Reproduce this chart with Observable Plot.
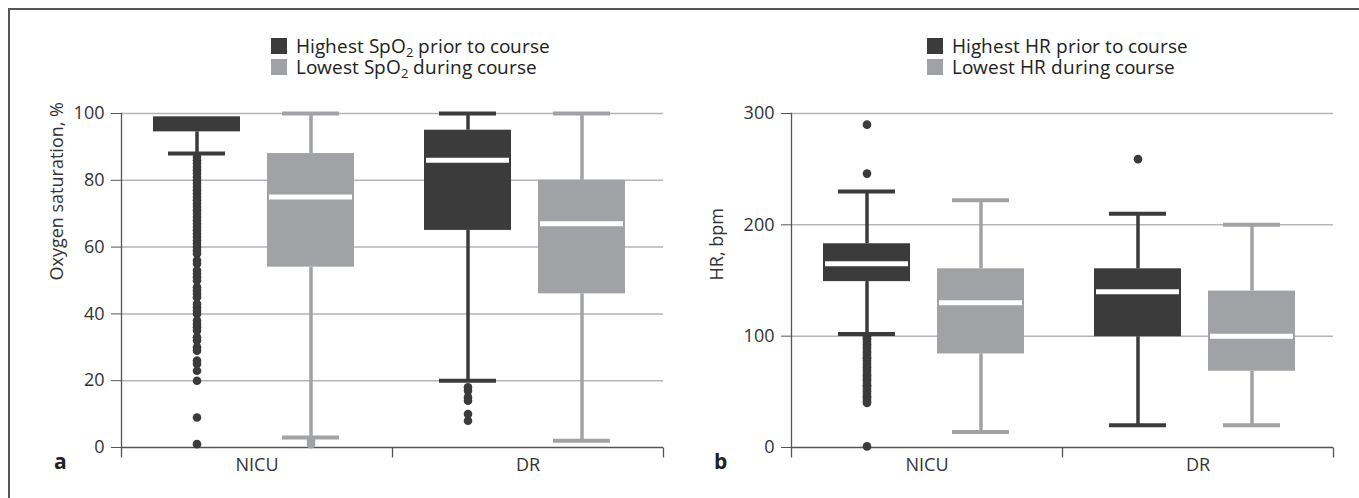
<!DOCTYPE html>
<html>
<head>
<meta charset="utf-8">
<script src="https://cdn.jsdelivr.net/npm/d3@7"></script>
<script src="https://cdn.jsdelivr.net/npm/@observablehq/plot@0.6"></script>
<style>
  @font-face { font-family: "OpenSansTight"; src: local("Open Sans"), local("OpenSans-Regular"), local("Open Sans Regular"); ascent-override: 80%; descent-override: 20%; line-gap-override: 0%; }
  body { margin: 0; background: #fff; }
  #root { position: relative; width: 1359px; height: 498px; overflow: hidden; font-family: "Open Sans", sans-serif; color: #222; }
  .frame { position: absolute; left: 8px; top: 8px; right: -10px; bottom: -10px; border-top: 2px solid #555; border-left: 2px solid #555; }
  .sq { position: absolute; width: 16px; height: 16px; }
  .lt { position: absolute; font-family: "OpenSansTight", "Open Sans", sans-serif; font-size: 19px; line-height: 21px; white-space: nowrap; color: #222; }
  .lt sub { font-size: 13px; vertical-align: -4px; line-height: 0; }
  .pl { position: absolute; font-size: 21px; line-height: 21px; font-weight: bold; color: #222; }
  .panel { position: absolute; top: 90px; }
</style>
</head>
<body>
<div id="root">
  <div class="frame"></div>
  <div id="legA"></div>
  <div id="legB"></div>
  <div class="pl" style="left:54px; top:451px;">a</div>
  <div class="pl" style="left:714px; top:451px;">b</div>
  <div id="a" class="panel" style="left:0px;"></div>
  <div id="b" class="panel" style="left:680px;"></div>
</div>
<script>
// ---------- shared categories ----------
const groups = ["NICU", "DR"];
const kinds = ["hi", "lo"];
const kindColors = ["#3b3b3b", "#a1a2a5"];

// ---------- panel a: oxygen saturation ----------
const spo2Legend = ["Highest SpO<sub>2</sub> prior to course", "Lowest SpO<sub>2</sub> during course"];
const spo2Group = ["NICU", "NICU", "DR", "DR"];
const spo2Kind = ["hi", "lo", "hi", "lo"];
const spo2WhiskerLow = [88, 3, 20, 2];
const spo2Q1 = [94.5, 54, 65, 46];
const spo2Median = [null, 75, 86, 67];
const spo2Q3 = [99, 88, 95, 80];
const spo2WhiskerHigh = [null, 100, 100, 100];
const spo2OutNicuHigh = [87, 86, 85, 84, 83, 82, 81, 80, 79, 78, 77, 76, 75, 74, 73, 72, 71, 70, 69, 68, 67, 66, 65, 64, 63, 62, 61, 60, 59, 58, 56, 55, 53, 52, 51, 50, 48, 47, 46, 45, 43, 42, 41, 40, 38, 37, 36, 35, 33, 32, 30, 29, 26, 25, 23, 20, 9, 1];
const spo2OutNicuLow = [2, 1];
const spo2OutDrHigh = [18, 17, 15, 14, 10, 8];
const spo2OutDrLow = [];
const spo2Ticks = [0, 20, 40, 60, 80, 100];
const spo2Grid = [20, 40, 60, 80, 100];
const spo2Label = "Oxygen saturation, %";

// ---------- panel b: heart rate ----------
const hrLegend = ["Highest HR prior to course", "Lowest HR during course"];
const hrGroup = ["NICU", "NICU", "DR", "DR"];
const hrKind = ["hi", "lo", "hi", "lo"];
const hrWhiskerLow = [102, 14, 20, 20];
const hrQ1 = [149, 84, 99.5, 68.5];
const hrMedian = [165, 130, 140, 100];
const hrQ3 = [183, 160.5, 160.5, 140.5];
const hrWhiskerHigh = [230, 222, 210, 200];
const hrOutNicuHigh = [290, 246, 100, 98, 97, 95, 93, 92, 90, 88, 86, 85, 83, 81, 80, 78, 76, 74, 72, 70, 68, 66, 65, 63, 61, 60, 58, 56, 55, 53, 51, 50, 48, 46, 45, 43, 41, 40, 1];
const hrOutNicuLow = [];
const hrOutDrHigh = [259];
const hrOutDrLow = [];
const hrTicks = [0, 100, 200, 300];
const hrGrid = [100, 200, 300];
const hrLabel = "HR, bpm";

// ---------- legends ----------
function legend(el, labels, sqLeft, textLeft) {
  labels.forEach((t, i) => {
    const sq = document.createElement("div");
    sq.className = "sq";
    sq.style.left = sqLeft + "px";
    sq.style.top = (38 + i * 21) + "px";
    sq.style.background = kindColors[i];
    el.appendChild(sq);
  });
  const tx = document.createElement("div");
  tx.className = "lt";
  tx.style.left = textLeft + "px";
  tx.style.top = "37px";
  tx.innerHTML = labels.join("<br>");
  el.appendChild(tx);
}
legend(document.getElementById("legA"), spo2Legend, 271, 296);
legend(document.getElementById("legB"), hrLegend, 927, 952);

// ---------- box plot panel ----------
const tickDown = { draw(ctx) { ctx.moveTo(0, 0); ctx.lineTo(0, 10); } };

function panel(opt) {
  const boxes = opt.group.map((g, i) => ({
    group: g, kind: opt.kind[i], lo: opt.lo[i], q1: opt.q1[i],
    med: opt.med[i], q3: opt.q3[i], hi: opt.hi[i]
  }));
  const outs = [];
  opt.outliers.forEach(([g, k, vals]) => vals.forEach(v => outs.push({group: g, kind: k, value: v})));
  return Plot.plot({
    width: opt.width,
    height: 400,
    marginTop: 23,
    marginBottom: 43,
    marginLeft: opt.ml,
    marginRight: opt.mr,
    style: { fontFamily: "Open Sans, sans-serif", fontSize: "18px", color: "#333", background: "transparent", overflow: "visible" },
    fx: { domain: groups, padding: 0 },
    x: { domain: kinds, paddingInner: 0.235, paddingOuter: 0.296, align: 0.46, axis: null },
    y: { domain: opt.yDomain },
    color: { domain: kinds, range: kindColors },
    marks: [
      Plot.gridY(opt.grid, { stroke: "#b5b5b5", strokeOpacity: 1, strokeWidth: 1.5 }),
      Plot.ruleY([0], { stroke: "#555", strokeWidth: 1.3 }),
      Plot.frame({ anchor: "left", facetAnchor: "left", stroke: "#555", strokeWidth: 1.3 }),
      Plot.dot([0], { frameAnchor: "bottom-left", symbol: tickDown, fill: "none", stroke: "#555", strokeWidth: 1.3 }),
      Plot.dot([0], { frameAnchor: "bottom-right", facetAnchor: "right", symbol: tickDown, fill: "none", stroke: "#555", strokeWidth: 1.3 }),
      Plot.ruleX(boxes.filter(d => d.lo != null), { fx: "group", x: "kind", y1: "lo", y2: "q1", stroke: "kind", strokeWidth: 3.5 }),
      Plot.ruleX(boxes.filter(d => d.hi != null), { fx: "group", x: "kind", y1: "q3", y2: "hi", stroke: "kind", strokeWidth: 3.5 }),
      Plot.tickY(boxes.filter(d => d.lo != null), { fx: "group", x: "kind", y: "lo", stroke: "kind", strokeWidth: 4, insetLeft: 15, insetRight: 15 }),
      Plot.tickY(boxes.filter(d => d.hi != null), { fx: "group", x: "kind", y: "hi", stroke: "kind", strokeWidth: 4, insetLeft: 15, insetRight: 15 }),
      Plot.barY(boxes, { fx: "group", x: "kind", y1: "q1", y2: "q3", fill: "kind" }),
      Plot.tickY(boxes.filter(d => d.med != null), { fx: "group", x: "kind", y: "med", stroke: "white", strokeWidth: 5, insetLeft: 2, insetRight: 2 }),
      Plot.dot(outs, { fx: "group", x: "kind", y: "value", r: 4.3, fill: "kind" }),
      Plot.axisY({ ticks: opt.ticks, tickSize: 10, tickPadding: 7, fontSize: 18, stroke: "#555", fill: "#333", label: null }),
      Plot.axisFx({ anchor: "bottom", tickSize: 0, tickPadding: 11, fontSize: 18, fill: "#333", label: null }),
      Plot.text([opt.label], { text: d => d, frameAnchor: "left", facetAnchor: "left", rotate: -90, dx: opt.labelDx, fontSize: 18, fill: "#333" })
    ]
  });
}

document.getElementById("a").appendChild(panel({
  group: spo2Group, kind: spo2Kind, lo: spo2WhiskerLow, q1: spo2Q1, med: spo2Median, q3: spo2Q3, hi: spo2WhiskerHigh,
  outliers: [["NICU", "hi", spo2OutNicuHigh], ["NICU", "lo", spo2OutNicuLow], ["DR", "hi", spo2OutDrHigh], ["DR", "lo", spo2OutDrLow]],
  yDomain: [0, 100], ticks: spo2Ticks, grid: spo2Grid, label: spo2Label, labelDx: -64,
  width: 680, ml: 121, mr: 17
}));

document.getElementById("b").appendChild(panel({
  group: hrGroup, kind: hrKind, lo: hrWhiskerLow, q1: hrQ1, med: hrMedian, q3: hrQ3, hi: hrWhiskerHigh,
  outliers: [["NICU", "hi", hrOutNicuHigh], ["NICU", "lo", hrOutNicuLow], ["DR", "hi", hrOutDrHigh], ["DR", "lo", hrOutDrLow]],
  yDomain: [0, 300], ticks: hrTicks, grid: hrGrid, label: hrLabel, labelDx: -74,
  width: 679, ml: 111, mr: 26
}));
</script>
</body>
</html>
